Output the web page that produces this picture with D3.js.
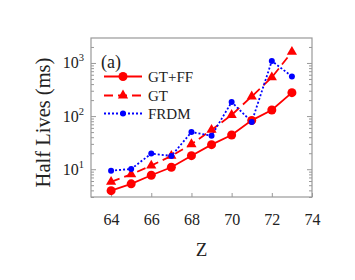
<!DOCTYPE html>
<html>
<head>
<meta charset="utf-8">
<script src="https://cdn.jsdelivr.net/npm/d3@7"></script>
<style>
body { margin: 0; background: #fff; }
svg text { font-family: 'Liberation Serif', serif; fill: #222; }
</style>
</head>
<body>
<svg id="grafico"></svg>
<script>
// Dados
var zValores = [64, 65, 66, 67, 68, 69, 70, 71, 72, 73];
var gtff = [3.95, 5.3, 7.7, 10.9, 18, 29, 44, 83, 130, 276];
var gt = [5.8, 8, 11.7, 17.8, 29.5, 55, 105, 234, 535, 1614];
var frdm = [9.4, 10.1, 19.7, 17.8, 50, 42.7, 184, 77.6, 1090, 558];
var xTicks = [64, 66, 68, 70, 72, 74];
var yTicks = [10, 100, 1000];
var legendas = ['GT+FF', 'GT', 'FRDM'];

var largura = 355, altura = 280;
var margem = { esquerda: 91, direita: 43, superior: 38, inferior: 83 };
var lp = largura - margem.esquerda - margem.direita;
var ap = altura - margem.superior - margem.inferior;

var svg = d3.select('#grafico').attr('width', largura).attr('height', altura);
var plot = svg.append('g').attr('transform', 'translate(' + margem.esquerda + ',' + margem.superior + ')');

var x = d3.scaleLinear().domain([63, 74]).range([0, lp]);
var y = d3.scaleLog().domain([3, 2950]).range([ap, 0]);

// ticks menores
var menores = [];
for (var e = 0; e <= 3; e++) {
  for (var m = 2; m < 10; m++) {
    var v = m * Math.pow(10, e);
    if (v >= 3 && v <= 2950) menores.push(v);
  }
}

var cinza = '#999';
// eixo esquerdo
var eixoY = plot.append('g');
eixoY.call(d3.axisLeft(y).tickValues(yTicks).tickSize(-5).tickFormat(''));
eixoY.append('g').call(d3.axisLeft(y).tickValues(menores).tickSize(-3).tickFormat(''));
// eixo direito
var eixoYd = plot.append('g').attr('transform', 'translate(' + lp + ',0)');
eixoYd.call(d3.axisRight(y).tickValues(yTicks).tickSize(-5).tickFormat(''));
eixoYd.append('g').call(d3.axisRight(y).tickValues(menores).tickSize(-3).tickFormat(''));
// eixo inferior
var eixoX = plot.append('g').attr('transform', 'translate(0,' + ap + ')');
eixoX.call(d3.axisBottom(x).tickValues(xTicks).tickSize(-4).tickPadding(16.5).tickFormat(d3.format('d')));
eixoX.attr('font-family', null).attr('font-size', null);
eixoX.selectAll('text').style('font-size', '16px');

plot.selectAll('.domain').remove();
plot.selectAll('.tick line').attr('stroke', cinza).attr('stroke-width', 1);
plot.append('rect').attr('width', lp).attr('height', ap)
    .attr('fill', 'none').attr('stroke', cinza).attr('stroke-width', 1.2);

// rótulos 10^n
var rotY = plot.selectAll('.rotY').data(yTicks).enter().append('text')
    .attr('x', -7).attr('y', d => y(d) + 5.5)
    .attr('text-anchor', 'end').style('font-size', '16px');
rotY.append('tspan').text('10');
rotY.append('tspan').attr('dy', -7).style('font-size', '10.5px').text(d => Math.round(Math.log10(d)));

// títulos dos eixos
svg.append('text').attr('transform', 'translate(49.5,122.5) rotate(-90)')
    .attr('text-anchor', 'middle').style('font-size', '20.5px').text('Half Lives (ms)');
svg.append('text').attr('x', margem.esquerda + x(68.5)).attr('y', 256)
    .attr('text-anchor', 'middle').style('font-size', '19px').text('Z');

// linhas
var vermelho = '#ff0000', azul = '#0000ff';
function linhaDe(vals) {
  return d3.line().x((d, i) => x(zValores[i])).y(d => y(d))(vals);
}
plot.append('path').attr('d', linhaDe(gtff)).attr('fill', 'none').attr('stroke', vermelho).attr('stroke-width', 1.8);
plot.append('path').attr('d', linhaDe(gt)).attr('fill', 'none').attr('stroke', vermelho).attr('stroke-width', 1.8).attr('stroke-dasharray', '9,5');
plot.append('path').attr('d', linhaDe(frdm)).attr('fill', 'none').attr('stroke', azul).attr('stroke-width', 1.8).attr('stroke-dasharray', '2,2');

var tri = d3.symbol().type(d3.symbolTriangle).size(45);
plot.selectAll('.p1').data(gtff).enter().append('circle')
    .attr('cx', (d, i) => x(zValores[i])).attr('cy', d => y(d)).attr('r', 4.5).attr('fill', vermelho);
plot.selectAll('.p2').data(gt).enter().append('path')
    .attr('d', tri).attr('transform', (d, i) => 'translate(' + x(zValores[i]) + ',' + y(d) + ')').attr('fill', vermelho);
plot.selectAll('.p3').data(frdm).enter().append('circle')
    .attr('cx', (d, i) => x(zValores[i])).attr('cy', d => y(d)).attr('r', 3).attr('fill', azul);

// legenda
svg.append('text').attr('x', 101).attr('y', 68).style('font-size', '18px').text('(a)');
var legY = [76.5, 95.5, 113.5];
var estilos = [
  { cor: vermelho, dash: null },
  { cor: vermelho, dash: '9,5' },
  { cor: azul, dash: '2,2' }
];
legendas.forEach(function(nome, i) {
  svg.append('line').attr('x1', 104).attr('x2', 142).attr('y1', legY[i]).attr('y2', legY[i])
     .attr('stroke', estilos[i].cor).attr('stroke-width', 1.8).attr('stroke-dasharray', estilos[i].dash);
  if (i === 0) svg.append('circle').attr('cx', 123).attr('cy', legY[i]).attr('r', 4.5).attr('fill', vermelho);
  if (i === 1) svg.append('path').attr('d', tri).attr('transform', 'translate(123,' + legY[i] + ')').attr('fill', vermelho);
  if (i === 2) svg.append('circle').attr('cx', 123).attr('cy', legY[i]).attr('r', 3).attr('fill', azul);
  svg.append('text').attr('x', 148).attr('y', legY[i] + 5).style('font-size', '15px').text(nome);
});
</script>
</body>
</html>
